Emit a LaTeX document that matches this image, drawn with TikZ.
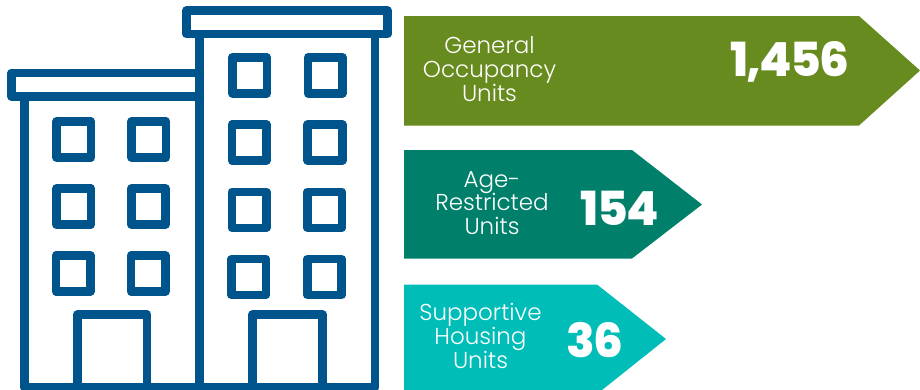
\documentclass[tikz,border=0pt]{standalone}
\usepackage{fontspec}
\setmainfont{Poppins Light}
\newfontfamily\numfont[LetterSpace=-3.5]{Poppins ExtraBold}
\definecolor{bldg}{HTML}{00548C}
\definecolor{agreen}{HTML}{688B1F}
\definecolor{ateal}{HTML}{00806B}
\definecolor{acyan}{HTML}{00BDB8}
\tikzset{
  outline/.style={draw=bldg,line width=8.6pt,line join=round,fill=none},
  labeltext/.style={text=white,align=center,inner sep=0pt,font=\fontsize{23}{23.6}\selectfont},
  numtext/.style={text=white,inner sep=0pt,font=\fontsize{47}{52}\selectfont\numfont}
}
\begin{document}
\begin{tikzpicture}[x=1pt,y=-1pt]
\useasboundingbox (0,0) rectangle (920,389);
\clip (0,0) rectangle (920,389);
% arrows
\fill[agreen] (404,16) -- (859,16) -- (920,70.5) -- (859,125.5) -- (404,125.5) -- cycle;
\fill[ateal] (404,150) -- (632,150) -- (702,204.5) -- (632,258.5) -- (404,258.5) -- cycle;
\fill[acyan] (404,284.5) -- (597,284.5) -- (666,339) -- (597,394) -- (404,394) -- cycle;
% building walls
\draw[outline] (24.5,96.5) -- (24.5,387.5) -- (375,387.5) -- (375,34);
\draw[outline] (199.5,34) -- (199.5,387.5);
% roofs
\draw[outline] (199.5,72.8) -- (11.5,72.8) -- (11.5,96.5) -- (199.5,96.5);
\draw[outline] (186.5,10.5) rectangle (387.5,34);
% left windows
\foreach \x/\y in {56.5/121.5,131.5/121.5,56.3/188.5,131.2/188.5,56/255.5,131/255.5}
  \draw[outline] (\x,\y) rectangle ++(34.5,36);
% right windows
\foreach \x/\y in {232.3/57.3,308/57.3,232/124.5,307.7/124.5,231.8/191.8,307.4/191.8,231.5/259,307.2/259}
  \draw[outline] (\x,\y) rectangle ++(34.5,36);
% doors
\draw[outline] (77.5,389) -- (77.5,314.5) -- (147,314.5) -- (147,389);
\draw[outline] (252.5,389) -- (252.5,314.5) -- (322.5,314.5) -- (322.5,389);
% labels
\node[labeltext] (lga) at (489.5,69) {General\\Occupancy\\Units};
\node[labeltext] (lage) at (492,203) {Age-\\Restricted\\Units};
\node[labeltext] (lsup) at (480.5,336) {Supportive\\Housing\\Units};
\node[numtext] (nga) at (790,62) {1,456};
\node[numtext] (nage) at (620,208.5) {154};
\node[numtext] (nsup) at (595,340) {36};
\end{tikzpicture}
\end{document}
